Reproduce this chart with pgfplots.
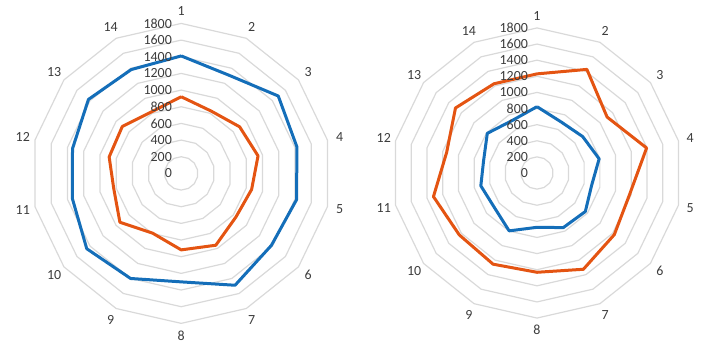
\documentclass[border=0pt]{standalone}
\usepackage{pgfplots}
\pgfplotsset{compat=1.18}
\usepackage{pgfplotstable}
\usepackage{fontspec}
\setmainfont{Carlito}
\definecolor{cblue}{RGB}{20,110,185}
\definecolor{corange}{RGB}{228,84,18}
\definecolor{cgrid}{RGB}{217,217,217}
\definecolor{ctext}{RGB}{60,60,60}

% k = spoke index (15 repeats 1 to close the polygon)
\pgfplotstableread{
k  blueA orangeA blueB orangeB
1  1410  920     823   1230
2  1310  830     700   1427
3  1490  897     725   1113
4  1425  946     791   1395
5  1420  867     695   1180
6  1385  840     767   1227
7  1490  957     752   1326
8  1302  918     674   1232
9  1400  795     797   1256
10 1450  941     680   1233
11 1341  830     715   1318
12 1338  887     680   1150
13 1424  904     789   1294
14 1383  820     720   1229
15 1410  920     823   1230
}\data

\pgfplotsset{
  radar/.style={
    hide axis, clip=false, anchor=origin,
    x=#1bp, y=#1bp,
    xmin=-2100, xmax=2100, ymin=-2100, ymax=2100,
    every axis plot/.append style={line join=round},
  },
}
\newcommand{\ang}{(90-(\thisrow{k}-1)*360/14)}
\newcommand{\radarbody}[3]{%
  \pgfplotsinvokeforeach{200,400,...,1800}{%
    \addplot[cgrid, line width=1.2bp] table[x expr={##1*cos(\ang)}, y expr={##1*sin(\ang)}]{\data};
  }
  \addplot[#2, line width=3bp] table[x expr={\thisrow{blue#1}*cos(\ang)}, y expr={\thisrow{blue#1}*sin(\ang)}]{\data};
  \addplot[#3, line width=3bp] table[x expr={\thisrow{orange#1}*cos(\ang)}, y expr={\thisrow{orange#1}*sin(\ang)}]{\data};
  \pgfplotsinvokeforeach{1,...,14}{%
    \node[text=ctext, font=\fontsize{14}{16}\selectfont] at (axis cs:{1950*cos(90-(##1-1)*360/14)},{1950*sin(90-(##1-1)*360/14)}) {##1};
  }
  \pgfplotsinvokeforeach{0,200,...,1800}{%
    \node[anchor=east, inner sep=0pt, text=ctext, font=\fontsize{14}{16}\selectfont] at (axis cs:-110,##1) {##1};
  }
}

\begin{document}
\begin{tikzpicture}
\useasboundingbox (0,0) rectangle (712bp,352bp);
\begin{axis}[radar=0.08333, at={(181.2bp,178.6bp)}]
  \radarbody{A}{cblue}{corange}
\end{axis}
\begin{axis}[radar=0.0806, at={(537bp,179bp)}]
  \radarbody{B}{cblue}{corange}
\end{axis}
\end{tikzpicture}
\end{document}
